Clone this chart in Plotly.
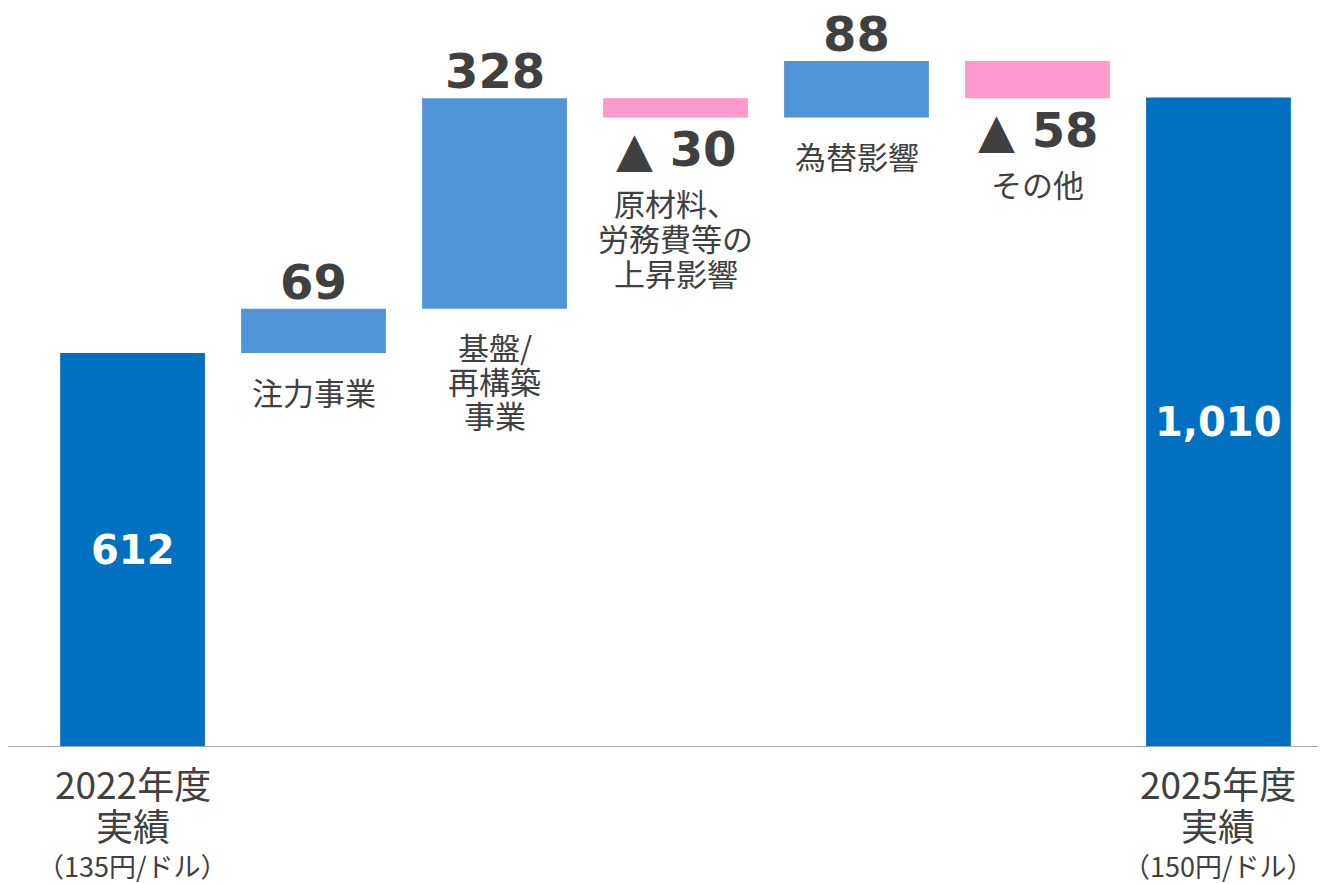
import plotly.graph_objects as go

categories = ["2022年度<br>実績", "注力事業", "基盤/<br>再構築<br>事業", "原材料、<br>労務費等の<br>上昇影響",
              "為替影響", "その他", "2025年度<br>実績"]
sub_labels = ["（135円/ドル）", "", "", "", "", "", "（150円/ドル）"]
values = [612, 69, 328, -30, 88, -58, 1010]
measures = ["absolute", "relative", "relative", "relative", "relative", "relative", "absolute"]
value_labels = ["612", "69", "328", "▲ 30", "88", "▲ 58", "1,010"]

DARK = "#0070C0"
LIGHT = "#5094D8"
PINK = "#FF99CC"
TXT = "#404040"
JP = "Noto Sans CJK JP, Noto Sans, sans-serif"
NUM = "DejaVu Sans, Verdana, sans-serif"

xs = list(range(len(values)))

fig = go.Figure(go.Waterfall(
    x=xs, y=values, measure=measures,
    width=[0.8] * len(values),
    totals=dict(marker=dict(color=DARK, line=dict(width=0))),
    increasing=dict(marker=dict(color=LIGHT, line=dict(width=0))),
    decreasing=dict(marker=dict(color=PINK, line=dict(width=0))),
    connector=dict(visible=False),
    textinfo="none", hoverinfo="skip",
))

annotations = []


def add_lines(x, y, text, first_shift, spacing, size):
    for k, line in enumerate(text.split("<br>")):
        annotations.append(dict(x=x, y=y, text=line, showarrow=False,
                                font=dict(family=JP, size=size, color=TXT),
                                xanchor="center", yanchor="middle",
                                yshift=-(first_shift + k * spacing)))


running = 0
for i, (v, m) in enumerate(zip(values, measures)):
    if m == "absolute":
        running = v
        annotations.append(dict(x=i, y=v / 2, text=f"<b>{value_labels[i]}</b>", showarrow=False,
                                font=dict(family=NUM, size=40, color="white"),
                                xanchor="center", yanchor="middle"))
        add_lines(i, 0, categories[i], 37, 42, 37)
        add_lines(i, 0, sub_labels[i], 119, 0, 27)
    else:
        start = running
        end = running + v
        running = end
        top = max(start, end)
        bot = min(start, end)
        if v > 0:
            annotations.append(dict(x=i, y=top, text=f"<b>{value_labels[i]}</b>", showarrow=False,
                                    font=dict(family=NUM, size=48, color=TXT),
                                    xanchor="center", yanchor="middle", yshift=27))
            add_lines(i, bot, categories[i], 38, 34, 31)
        else:
            annotations.append(dict(x=i, y=bot, text=f"<b>{value_labels[i]}</b>", showarrow=False,
                                    font=dict(family=NUM, size=48, color=TXT),
                                    xanchor="center", yanchor="middle", yshift=-32))
            add_lines(i, bot, categories[i], 85, 35, 31)

fig.update_layout(
    width=1318, height=876,
    margin=dict(l=0, r=0, t=0, b=138),
    paper_bgcolor="white", plot_bgcolor="white",
    showlegend=False,
    xaxis=dict(range=[-0.688, 6.594], showticklabels=False, showgrid=False, zeroline=False,
               showline=True, linecolor="#A6A6A6", linewidth=1, ticks=""),
    yaxis=dict(range=[0, 1149.5], visible=False, showgrid=False, zeroline=False),
    annotations=annotations,
)

fig.write_html("out.html")
